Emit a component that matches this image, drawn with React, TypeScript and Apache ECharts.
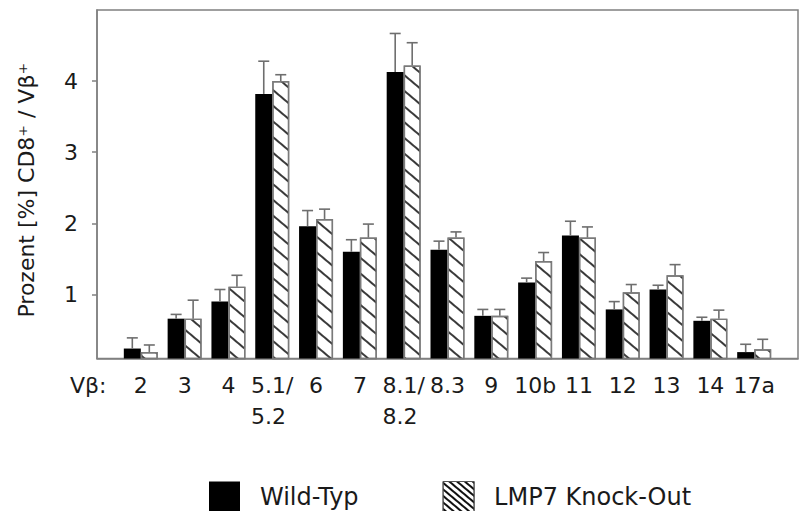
import React, { useEffect, useRef } from "react";
import * as echarts from "echarts";

// Vβ families (x-axis categories)
const categories = ["2", "3", "4", "5.1/\n5.2", "6", "7", "8.1/\n8.2", "8.3", "9", "10b", "11", "12", "13", "14", "17a"];
// Wild-Typ means and upper error (SD)
const wildTyp = [0.24, 0.66, 0.9, 3.82, 1.96, 1.6, 4.13, 1.63, 0.7, 1.17, 1.83, 0.79, 1.07, 0.63, 0.19];
const wildTypSd = [0.15, 0.06, 0.17, 0.46, 0.22, 0.17, 0.54, 0.12, 0.09, 0.06, 0.2, 0.11, 0.06, 0.05, 0.11];
// LMP7 Knock-Out means and upper error (SD)
const lmp7 = [0.19, 0.66, 1.11, 4.0, 2.06, 1.8, 4.22, 1.8, 0.7, 1.47, 1.8, 1.03, 1.27, 0.66, 0.23];
const lmp7Sd = [0.1, 0.26, 0.16, 0.09, 0.14, 0.19, 0.32, 0.08, 0.09, 0.12, 0.15, 0.11, 0.15, 0.12, 0.14];
// y-axis tick labels
const yTicks = [1, 2, 3, 4];

const FONT = "DejaVu Sans";
const TEXT = "#1a1a1a";
const LINE = "#808080";
const BAR_W = 17;

export default function App() {
  const ref = useRef<HTMLDivElement>(null);
  useEffect(() => {
    if (!ref.current) return;
    const chart = echarts.init(ref.current, undefined, { renderer: "svg" });

    // padded axis so the first/last categories sit one band inside the frame
    const axisCats = ["", ...categories, ""];
    const pad = (arr: number[]) => [null, ...arr, null];

    const errData = (vals: number[], sds: number[]) => vals.map((v, i) => [i + 1, v, v + sds[i]]);

    const errSeries = (name: string, vals: number[], sds: number[], offset: number) => ({
      type: "custom",
      name,
      silent: true,
      z: 5,
      data: errData(vals, sds),
      renderItem: (_p: any, api: any) => {
        const idx = api.value(0);
        const base = api.coord([idx, api.value(1)]);
        const top = api.coord([idx, api.value(2)]);
        const x = base[0] + offset;
        const style = { stroke: "#6e6e6e", lineWidth: 1.6 };
        return {
          type: "group",
          children: [
            { type: "line", shape: { x1: x, y1: base[1], x2: x, y2: top[1] }, style },
            { type: "line", shape: { x1: x - 5.5, y1: top[1], x2: x + 5.5, y2: top[1] }, style },
          ],
        };
      },
    });

    const hatchDecal = {
      symbol: "rect",
      symbolSize: 1,
      dashArrayX: [1, 0],
      dashArrayY: [1.4, 10],
      rotation: 0.7,
      color: "#3a3a3a",
    };
    const legendDecal = {
      symbol: "rect",
      symbolSize: 1,
      dashArrayX: [1, 0],
      dashArrayY: [1.8, 2.2],
      rotation: 0.7,
      color: "#111",
    };

    const option: any = {
      animation: false,
      textStyle: { fontFamily: FONT },
      grid: {
        left: 97,
        right: -9.4,
        top: 10,
        bottom: 152.5,
        show: true,
        borderColor: LINE,
        borderWidth: 1.5,
        backgroundColor: "transparent",
      },
      xAxis: {
        type: "category",
        data: axisCats,
        boundaryGap: false,
        axisLine: { lineStyle: { color: LINE, width: 1.5 } },
        axisTick: { show: false },
        axisLabel: {
          interval: 0,
          fontSize: 22,
          fontFamily: FONT,
          color: TEXT,
          lineHeight: 31,
          margin: 11,
          formatter: (v: string) =>
            v.includes("\n") ? v.split("\n").map((s) => `{l|${s}}`).join("\n") : v,
          rich: { l: { align: "left", fontSize: 22, lineHeight: 31, fontFamily: FONT, color: TEXT } },
        },
      },
      yAxis: {
        type: "value",
        min: 0.1,
        max: 5,
        splitLine: { show: false },
        axisLine: { show: true, lineStyle: { color: LINE, width: 1.5 } },
        axisTick: { show: true, length: 5, customValues: yTicks, lineStyle: { color: LINE, width: 1.5 } },
        axisLabel: { customValues: yTicks, fontSize: 22, fontFamily: FONT, color: TEXT, margin: 19 },
        name: "Prozent [%] CD8⁺ / Vβ⁺",
        nameLocation: "middle",
        nameRotate: 90,
        nameGap: 60,
        nameTextStyle: { fontSize: 22, fontFamily: FONT, color: TEXT, padding: [0, 12, 0, 0] },
      },
      legend: {
        data: [
          { name: "Wild-Typ", itemStyle: { color: "#000", borderWidth: 0 } },
          { name: "LMP7 Knock-Out", itemStyle: { color: "#fff", decal: legendDecal, borderColor: "#555", borderWidth: 1 } },
        ],
        left: 209,
        top: 481,
        padding: 0,
        icon: "rect",
        itemWidth: 31,
        itemHeight: 30,
        itemGap: 84,
        selectedMode: false,
        textStyle: { fontSize: 24, fontFamily: FONT, color: TEXT, padding: [0, 0, 0, 15] },
      },
      graphic: [
        {
          type: "text",
          left: 70,
          top: 370,
          style: { text: "Vβ:", fontSize: 22, fontFamily: FONT, fill: TEXT, lineHeight: 31 },
        },
      ],
      series: [
        {
          type: "bar",
          name: "Wild-Typ",
          data: pad(wildTyp),
          barWidth: BAR_W,
          barGap: "0%",
          itemStyle: { color: "#000", borderColor: "#222", borderWidth: 0 },
        },
        {
          type: "bar",
          name: "LMP7 Knock-Out",
          data: pad(lmp7),
          barWidth: BAR_W,
          barGap: "0%",
          itemStyle: { color: "#fff", borderColor: "#7a7a7a", borderWidth: 1.4, decal: hatchDecal },
        },
        errSeries("err-wt", wildTyp, wildTypSd, -BAR_W / 2),
        errSeries("err-ko", lmp7, lmp7Sd, BAR_W / 2),
      ],
    };
    chart.setOption(option);
    return () => chart.dispose();
  }, []);
  return (
    <div
      ref={ref}
      style={{ position: "fixed", left: 0, top: 0, width: 801, height: 511, background: "#fff" }}
    />
  );
}
